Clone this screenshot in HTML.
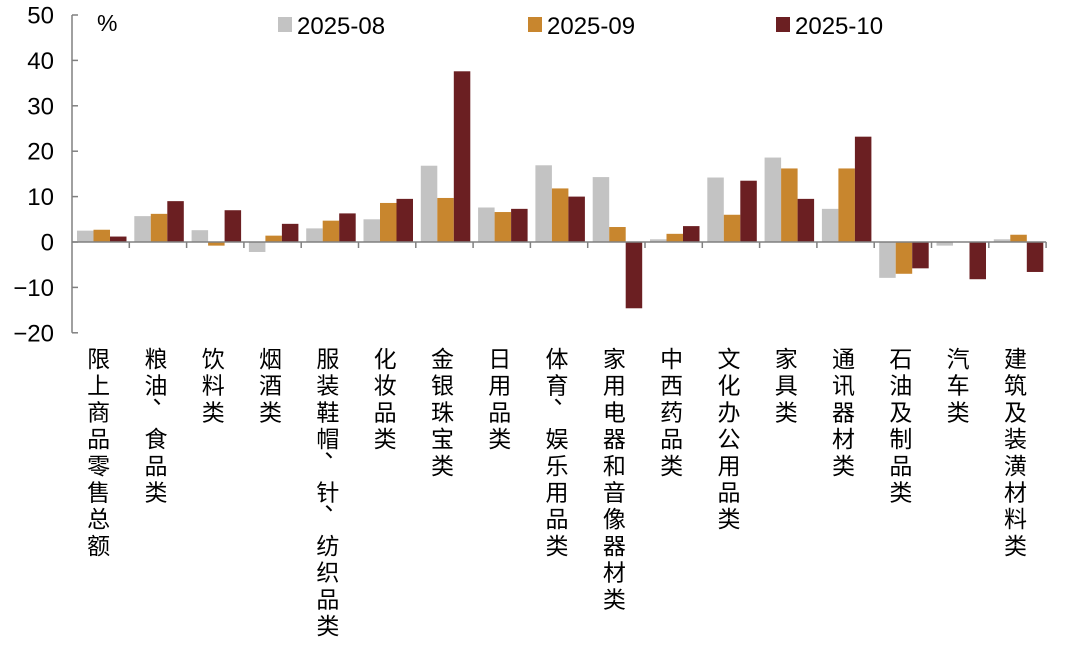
<!DOCTYPE html>
<html><head><meta charset="utf-8"><style>
body{margin:0;background:#fff;}
svg text{font-family:"Liberation Sans","Noto Sans CJK SC",sans-serif;}
</style></head><body>
<svg id="chart" width="1080" height="653" xmlns="http://www.w3.org/2000/svg"></svg>
<script>
const categories=["限上商品零售总额","粮油、食品类","饮料类","烟酒类","服装鞋帽、针、纺织品类","化妆品类","金银珠宝类","日用品类","体育、娱乐用品类","家用电器和音像器材类","中西药品类","文化办公用品类","家具类","通讯器材类","石油及制品类","汽车类","建筑及装潢材料类"];
const s2025_08=[2.5,5.7,2.6,-2.2,3.0,5.0,16.8,7.6,16.9,14.3,0.6,14.2,18.6,7.3,-7.9,-0.8,0.6];
const s2025_09=[2.7,6.2,-0.8,1.4,4.7,8.6,9.7,6.6,11.8,3.3,1.8,6.0,16.2,16.2,-7.0,0,1.6];
const s2025_10=[1.2,9.0,7.0,4.0,6.3,9.5,37.6,7.3,10.0,-14.6,3.5,13.5,9.5,23.2,-5.8,-8.2,-6.6];
const seriesNames=["2025-08","2025-09","2025-10"];
const yTicks=[50,40,30,20,10,0,-10,-20];
const colors=["#c3c3c3","#c8862e","#6b1f22"];
const NS="http://www.w3.org/2000/svg";
const svg=document.getElementById('chart');
const x0=72,cw=57.3,bw=16.5,off=5;
function y(v){return 242-v*4.54;}
function xc(i){return x0+i*cw;}
function mk(t,a,p){const e=document.createElementNS(NS,t);for(const k in a)e.setAttribute(k,a[k]);(p||svg).appendChild(e);return e;}
let ax=mk('line',{x1:x0,y1:y(50),x2:x0,y2:y(-20),stroke:'#808080','stroke-width':1.5});


yTicks.forEach(t=>{
 let l=mk('line',{x1:x0,y1:y(t),x2:x0+6,y2:y(t),stroke:'#808080','stroke-width':1.5});
 
 
 let tx=mk('text',{x:54,y:y(t)+8.5,'text-anchor':'end','font-size':24,fill:'#000'});
 tx.textContent=t<0?'\u2212'+(-t):t;
 
 
});
let pc=mk('text',{x:97,y:31,'font-size':23});pc.textContent='%';


const series=[s2025_08,s2025_09,s2025_10];
series.forEach((s,si)=>{
 s.forEach((v,i)=>{
  const bx=xc(i)+off+si*bw;
  let r=mk('rect',{x:bx,y:Math.min(y(v),y(0)),width:bw,height:Math.abs(y(v)-y(0)),fill:colors[si]});
  
  
 });
});
let z=mk('line',{x1:x0,y1:y(0),x2:xc(17),y2:y(0),stroke:'#808080','stroke-width':1.5});


for(let i=1;i<=17;i++){let t=mk('line',{x1:xc(i),y1:y(0),x2:xc(i),y2:y(0)+6,stroke:'#808080','stroke-width':1.5});
 
 }
categories.forEach((c,i)=>{
 const cx=xc(i)+cw/2-2;
 [...c].forEach((ch,k)=>{
  let t=mk('text',{x:ch==='、'?cx+8:cx,y:ch==='、'?358+k*26.7-8:367+k*26.7,'text-anchor':'middle','font-size':23});
  t.textContent=ch;
  
  
 });
});
const lx=[278,528,776];
seriesNames.forEach((n,i)=>{
 let r=mk('rect',{x:lx[i],y:17,width:14,height:15,fill:colors[i]});
 
 
 let t=mk('text',{x:lx[i]+19,y:34,'font-size':24});t.textContent=n;
 
 
});
</script>
</body></html>
